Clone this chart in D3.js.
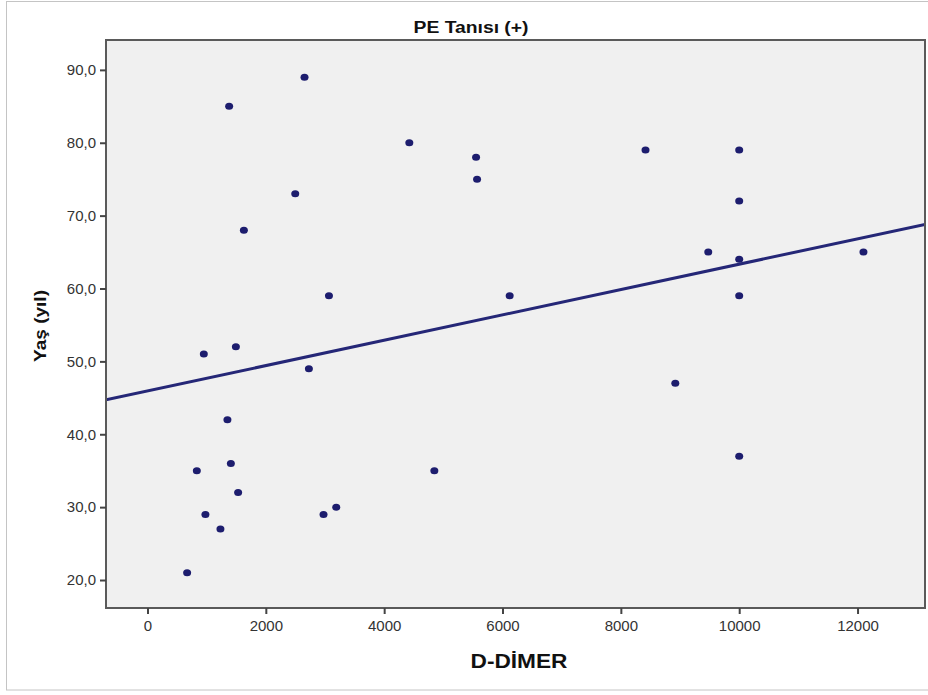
<!DOCTYPE html>
<html>
<head>
<meta charset="utf-8">
<script src="https://cdn.jsdelivr.net/npm/d3@7"></script>
<style>
  body { margin: 0; background: #fff; }
  svg text { font-family: "Liberation Sans", Arial, sans-serif; }
</style>
</head>
<body>
<div id="chart"></div>
<script>
// data
const dDimer = [670, 834, 979, 1233, 952, 1380, 1351, 1409, 1494, 1532, 1629,
    2497, 2654, 2728, 2975, 3067, 3190, 4425, 4848, 5553, 5570, 6121,
    8417, 8920, 9477, 10000, 10000, 10000, 10000, 10000, 12100]
const age = [21, 35, 29, 27, 51, 85, 42, 36, 52, 32, 68,
    73, 89, 49, 29, 59, 30, 80, 35, 78, 75, 59,
    79, 47, 65, 79, 72, 64, 59, 37, 65]
const xTicks = [0, 2000, 4000, 6000, 8000, 10000, 12000]
const yTicks = [20, 30, 40, 50, 60, 70, 80, 90]
// fit line
const fitIntercept = 45.94
const fitSlope = 0.00174

const W = 928, H = 695
const margin = { top: 40, right: 3, bottom: 87, left: 106 }
const width = W - margin.left - margin.right
const height = H - margin.top - margin.bottom

const XScale = d3.scaleLinear().domain([-701, 13140]).range([0, width])
const YScale = d3.scaleLinear().domain([16.16, 94.1]).range([height, 0])

const comma = d3.formatLocale({ decimal: ",", thousands: ".", grouping: [3], currency: ["", ""] })

const svg = d3.select("#chart").append("svg")
    .attr("width", W).attr("height", H)

// outer frame
svg.append("rect")
    .attr("x", 6.5).attr("y", 1.5)
    .attr("width", W).attr("height", 688.5)
    .attr("fill", "none").attr("stroke", "#c4c4c4")

svg.append("text")
    .attr("x", 471).attr("y", 33)
    .attr("text-anchor", "middle")
    .attr("font-size", 16).attr("font-weight", "bold").attr("fill", "#111")
    .attr("textLength", 115).attr("lengthAdjust", "spacingAndGlyphs")
    .text("PE Tanısı (+)")

const g = svg.append("g")
    .attr("transform", "translate(" + margin.left + "," + margin.top + ")")

g.append("rect")
    .attr("width", width).attr("height", height)
    .attr("fill", "#f0f0f0")

g.append("defs").append("clipPath").attr("id", "clip")
    .append("rect").attr("width", width).attr("height", height)

// fit line
const x0 = XScale.domain()[0], x1 = XScale.domain()[1]
g.append("line")
    .attr("clip-path", "url(#clip)")
    .attr("x1", XScale(x0)).attr("y1", YScale(fitIntercept + fitSlope * x0))
    .attr("x2", XScale(x1)).attr("y2", YScale(fitIntercept + fitSlope * x1))
    .attr("stroke", "#252777").attr("stroke-width", 3)

// points
g.selectAll(".pt")
    .data(dDimer.map((d, i) => ({ x: d, y: age[i] })))
    .enter().append("ellipse")
    .attr("class", "pt")
    .attr("cx", d => XScale(d.x))
    .attr("cy", d => YScale(d.y))
    .attr("rx", 4).attr("ry", 3.5)
    .attr("fill", "#1d1d6e")

// frame
g.append("rect")
    .attr("width", width).attr("height", height)
    .attr("fill", "none").attr("stroke", "#5a5a5a").attr("stroke-width", 2)

// axes
const XAxis = d3.axisBottom(XScale).tickValues(xTicks).tickSize(6).tickSizeOuter(0).tickFormat(d3.format("d"))
const YAxis = d3.axisLeft(YScale).tickValues(yTicks).tickSize(6).tickSizeOuter(0).tickFormat(comma.format(".1f"))

const gx = g.append("g").attr("transform", "translate(0," + height + ")").call(XAxis)
const gy = g.append("g").call(YAxis)
;[gx, gy].forEach(a => {
    a.select(".domain").remove()
    a.selectAll(".tick line").attr("stroke", "#444").attr("stroke-width", 2)
    a.selectAll(".tick text").attr("font-size", 15).attr("fill", "#333")
        .style("font-family", "Liberation Sans, Arial, sans-serif")
})
gx.selectAll(".tick text").attr("dy", "0.71em").attr("y", 12)
gy.selectAll(".tick text").attr("x", -10)

svg.append("text")
    .attr("x", 519).attr("y", 668)
    .attr("text-anchor", "middle")
    .attr("font-size", 20).attr("font-weight", "bold").attr("fill", "#111")
    .attr("textLength", 97).attr("lengthAdjust", "spacingAndGlyphs")
    .text("D-DİMER")

svg.append("text")
    .attr("transform", "translate(46," + (margin.top + height / 2 + 2) + ") rotate(-90)")
    .attr("text-anchor", "middle")
    .attr("font-size", 17).attr("font-weight", "bold").attr("fill", "#111")
    .attr("textLength", 72).attr("lengthAdjust", "spacingAndGlyphs")
    .text("Yaş (yıl)")
</script>
</body>
</html>
